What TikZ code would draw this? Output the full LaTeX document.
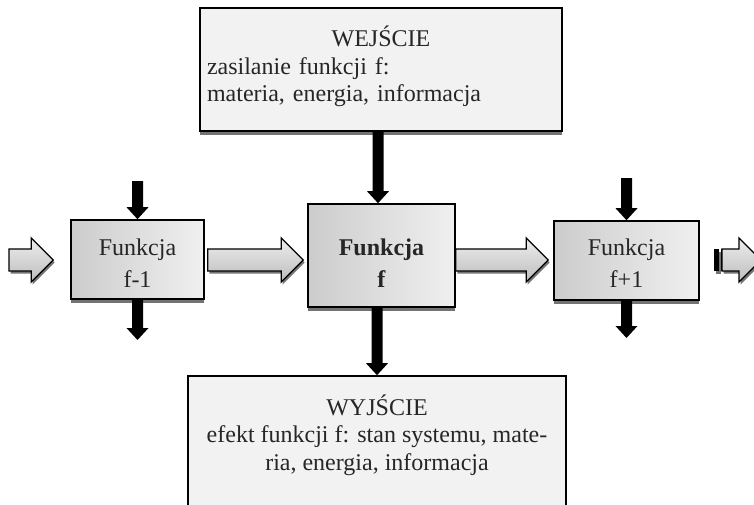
\documentclass[tikz,border=0pt]{standalone}
\usepackage{fontspec}
\setmainfont{Liberation Serif}
\usetikzlibrary{calc,shadows}

% fixed line heights/depths so the baselines sit where they should
\newcommand\topstrut[1]{\rule{0pt}{#1}}
\newcommand\botstrut[1]{\rule[-#1]{0pt}{#1}}

% hollow, shaded block arrow from a tail point to a tip point (horizontal)
\newcommand\blockarrow[3][]{%
  \draw[blockarr,#1] let \p1=(#2), \p2=(#3) in
    (\x1,\y1+11pt) -- (\x2-22pt,\y1+11pt) -- (\x2-22pt,\y1+22pt) -- (\x2,\y1)
    -- (\x2-22pt,\y1-22pt) -- (\x2-22pt,\y1-11pt) -- (\x1,\y1-11pt) -- cycle;}

% solid black arrow pointing down, from a start point to a tip point
\newcommand\blackarrow[2]{%
  \fill[black] let \p1=(#1), \p2=(#2) in
    (\x2-5.5pt,\y1) -- (\x2-5.5pt,\y2+12pt) -- (\x2-11pt,\y2+12pt) -- (\x2,\y2)
    -- (\x2+11pt,\y2+12pt) -- (\x2+5.5pt,\y2+12pt) -- (\x2+5.5pt,\y1) -- cycle;}

\begin{document}
\begin{tikzpicture}[x=1pt,y=-1pt,
  every node/.style={text=black!85},
  boxshadow/.style={drop shadow={shadow xshift=0pt,shadow yshift=-4pt,fill=black!55,opacity=1}},
  funcbox/.style={draw,line width=1.6pt,left color=black!20,right color=black!6,
    boxshadow,align=center,inner sep=0pt,minimum height=79pt,
    font=\fontsize{24}{32}\selectfont},
  infobox/.style={draw,line width=1.6pt,fill=black!5,boxshadow,inner ysep=0pt,
    font=\fontsize{24}{27.5}\selectfont},
  blockarr/.style={draw,line width=1.3pt,line join=miter,top color=black!7,bottom color=black!26,
    drop shadow={shadow xshift=1.5pt,shadow yshift=-2.5pt,fill=black!55,opacity=1}},
]
\useasboundingbox (0,0) rectangle (754,505);
\fill[white] (0,0) rectangle (754,505);

% boxes
\node[infobox,minimum width=362pt,minimum height=123pt,text width=348pt,inner xsep=7pt,align=left]
  (wej) at (381,69.5)
  {\noindent\topstrut{22pt}\makebox[348pt][c]{WEJŚCIE}\\zasilanie funkcji f:\\materia, energia, informacja\botstrut{12pt}};
\node[funcbox,minimum width=133pt] (fm1) at (137.5,259.5)
  {\topstrut{24pt}Funkcja\\f-1\botstrut{1pt}};
\node[funcbox,minimum width=147pt,minimum height=103pt] (f) at (381.5,255.5)
  {\topstrut{32pt}\textbf{Funkcja}\\\textbf{f}\botstrut{1pt}};
\node[funcbox,minimum width=145pt] (fp1) at (626.5,260.5)
  {\topstrut{22pt}Funkcja\\f+1\botstrut{1pt}};
\node[infobox,minimum width=378pt,minimum height=130pt,align=center] (wyj) at (377,441)
  {\topstrut{22pt}WYJŚCIE\\efekt funkcji f: stan systemu, mate-\\ria, energia, informacja\botstrut{19pt}};

% free ends
\coordinate (axis) at (0,260);
\coordinate (inTail) at (9,260);
\coordinate (fm1in) at (137.5,181);
\coordinate (fm1out) at (137.5,340);
\coordinate (fp1in) at (626.5,178);
\coordinate (fp1out) at (626.5,338);
\coordinate (outTail) at (714,260);
\coordinate (outTip) at (761,260);

% flow of the functions
\blockarrow{inTail}{$(fm1.west)+(-17,0)$}
\blockarrow{$(fm1.east |- axis)+(3,0)$}{$(f.west |- axis)+(-4,0)$}
\blockarrow{f.east |- axis}{$(fp1.west |- axis)+(-5,0)$}
\blockarrow{$(outTail)+(8,0)$}{outTip}
\fill[black,drop shadow={shadow xshift=1.5pt,shadow yshift=-2.5pt,fill=black!55,opacity=1}]
  ($(outTail)+(0,-11)$) rectangle ++(5,22);
\fill[black] ($(outTail)+(6.5,-11)$) rectangle ++(1.6,22);

% inputs and outputs
\blackarrow{fm1in}{fm1.north}
\blackarrow{fm1.south}{fm1out}
\blackarrow{wej.south}{$(f.north)+(-3.5,0)$}
\blackarrow{f.south}{wyj.north}
\blackarrow{fp1in}{fp1.north}
\blackarrow{fp1.south}{fp1out}
\end{tikzpicture}
\end{document}
